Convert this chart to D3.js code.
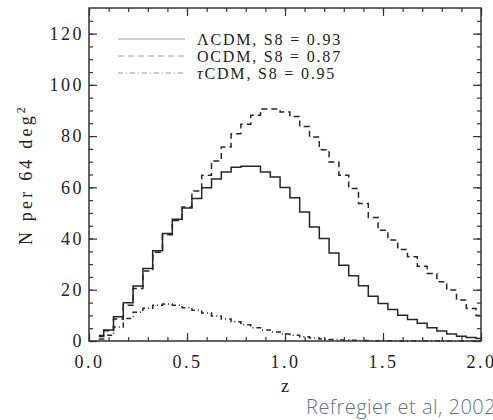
<!DOCTYPE html>
<html>
<head>
<meta charset="utf-8">
<script src="https://cdn.jsdelivr.net/npm/d3@7"></script>
<style>
  body { margin: 0; background: #fff; }
  text { font-family: "Liberation Serif", "DejaVu Serif", serif; fill: #222; }
</style>
</head>
<body>
<svg id="chart" width="493" height="420"></svg>
<script>
// redshift bins (centres) and counts per 64 deg^2
const zBins = [0.05, 0.10, 0.15, 0.20, 0.25, 0.30, 0.35, 0.40, 0.45, 0.50,
               0.55, 0.60, 0.65, 0.70, 0.75, 0.80, 0.85, 0.90, 0.95, 1.00,
               1.05, 1.10, 1.15, 1.20, 1.25, 1.30, 1.35, 1.40, 1.45, 1.50,
               1.55, 1.60, 1.65, 1.70, 1.75, 1.80, 1.85, 1.90, 1.95, 2.00]

const lcdm = [2.1, 4.3, 9.5, 14.9, 21.5, 28.3, 35.2, 42.0, 47.5, 51.9,
              55.6, 59.8, 63.2, 66.0, 67.8, 68.2, 68.2, 66.0, 64.0, 59.9,
              55.9, 50.4, 44.5, 40.0, 34.4, 29.6, 25.5, 21.6, 17.5, 14.6,
              12.3, 10.1, 8.4, 6.9, 5.2, 3.9, 2.7, 1.9, 1.4, 1.0]

const ocdm = [1.8, 4.0, 8.6, 14.0, 20.5, 27.3, 34.6, 41.5, 47.0, 52.3,
              58.6, 64.7, 70.3, 75.7, 80.9, 84.6, 88.1, 90.6, 90.6, 89.4,
              87.6, 83.7, 79.6, 74.7, 69.9, 64.7, 59.5, 53.7, 48.2, 43.2,
              39.4, 35.7, 32.9, 29.2, 26.4, 23.1, 19.9, 16.0, 12.7, 10.0]

const tcdm = [0.8, 2.2, 5.5, 8.8, 11.2, 12.8, 14.0, 14.4, 14.0, 13.0,
              12.0, 10.9, 9.8, 8.6, 7.5, 6.3, 5.2, 4.3, 3.5, 2.7,
              2.2, 1.7, 1.2, 0.8, 0.6, 0.4, 0.25, 0.15, 0.1, 0.07,
              0.05, 0.03, 0.02, 0.01, 0.01, 0, 0, 0, 0, 0]

const seriesNames = ['ΛCDM, S8 = 0.93', 'OCDM, S8 = 0.87', 'τCDM, S8 = 0.95']
const xTicks = [0.0, 0.5, 1.0, 1.5, 2.0]
const yTicks = [0, 20, 40, 60, 80, 100, 120]

const margin = {left: 89, right: 12, top: 8, bottom: 79}
const W = 493, H = 420
const width = W - margin.left - margin.right
const height = H - margin.top - margin.bottom

const svg = d3.select('#chart')
const chart = svg.append('g')
  .attr('transform', `translate(${margin.left}, ${margin.top})`)

const xScale = d3.scaleLinear().domain([0, 2]).range([0, width])
const yScale = d3.scaleLinear().domain([0, 130]).range([height, 0])

const dashes = ['none', '6,4', '5,3,1,3']
const allSeries = [lcdm, ocdm, tcdm]

const line = d3.line()
  .x((d, i) => xScale(zBins[i]))
  .y(d => yScale(d))
  .curve(d3.curveStep)

chart.selectAll('.curve')
  .data(allSeries)
  .join('path')
    .attr('class', 'curve')
    .attr('fill', 'none')
    .attr('stroke', '#262626')
    .attr('stroke-width', 1.5)
    .attr('stroke-dasharray', (d, i) => dashes[i])
    .attr('d', line)

// axes, ticks pointing inwards on all four sides
const minorX = d3.range(0, 2.001, 0.1)
const minorY = d3.range(0, 130, 5)

function styleAxis(g) {
  g.select('.domain').remove()
  g.selectAll('line').attr('stroke', '#333').attr('stroke-width', 1.2)
}

chart.append('g')
  .attr('transform', `translate(0, ${height})`)
  .call(d3.axisBottom(xScale).tickValues(minorX).tickSize(-4).tickFormat(''))
  .call(styleAxis)
chart.append('g')
  .attr('transform', `translate(0, ${height})`)
  .call(d3.axisBottom(xScale).tickValues(xTicks).tickSize(-8).tickPadding(14)
    .tickFormat(d3.format('.1f')))
  .call(styleAxis)
chart.append('g')
  .call(d3.axisTop(xScale).tickValues(minorX).tickSize(-4).tickFormat(''))
  .call(styleAxis)
chart.append('g')
  .call(d3.axisTop(xScale).tickValues(xTicks).tickSize(-8).tickFormat(''))
  .call(styleAxis)

chart.append('g')
  .call(d3.axisLeft(yScale).tickValues(minorY).tickSize(-4).tickFormat(''))
  .call(styleAxis)
chart.append('g')
  .call(d3.axisLeft(yScale).tickValues(yTicks).tickSize(-8).tickPadding(5))
  .call(styleAxis)
chart.append('g')
  .attr('transform', `translate(${width}, 0)`)
  .call(d3.axisRight(yScale).tickValues(minorY).tickSize(-4).tickFormat(''))
  .call(styleAxis)
chart.append('g')
  .attr('transform', `translate(${width}, 0)`)
  .call(d3.axisRight(yScale).tickValues(yTicks).tickSize(-8).tickFormat(''))
  .call(styleAxis)

chart.selectAll('.tick text')
  .style('font-family', '"Liberation Serif", serif')
  .style('font-size', '18px')
  .style('letter-spacing', '2.5px')
  .attr('fill', '#222')

chart.append('rect')
  .attr('width', width)
  .attr('height', height)
  .attr('fill', 'none')
  .attr('stroke', '#333')
  .attr('stroke-width', 1.5)

// axis titles
chart.append('text')
  .attr('x', width / 2)
  .attr('y', height + 51)
  .attr('text-anchor', 'middle')
  .style('font-size', '18px')
  .text('z')

const yTitle = svg.append('text')
  .attr('transform', `translate(32, ${margin.top + height / 2}) rotate(-90)`)
  .attr('text-anchor', 'middle')
  .style('font-size', '18px')
  .style('letter-spacing', '3.2px')
yTitle.append('tspan').text('N per 64 deg')
yTitle.append('tspan').attr('dy', -7).style('font-size', '12px').text('2')

// legend
const legend = chart.append('g')
  .attr('transform', 'translate(29, 31)')
seriesNames.forEach((name, i) => {
  legend.append('line')
    .attr('x1', 0).attr('x2', 67)
    .attr('y1', i * 17).attr('y2', i * 17)
    .attr('stroke', '#9a9a9a')
    .attr('stroke-width', 1)
    .attr('stroke-dasharray', dashes[i])
  const t = legend.append('text')
    .attr('x', 79).attr('y', i * 17 + 5.5)
    .style('font-size', '16px')
    .style('letter-spacing', '1.8px')
  t.append('tspan').text(name[0])
    .style('font-style', name[0] === 'τ' ? 'italic' : null)
  t.append('tspan').text(name.slice(1))
})

// source note
svg.append('text')
  .attr('x', 306)
  .attr('y', 414)
  .style('font-family', '"Open Sans", sans-serif')
  .style('font-weight', 300)
  .style('font-size', '20px')
  .style('letter-spacing', '0.5px')
  .style('fill', '#627282')
  .text('Refregier et al, 2002')
</script>
</body>
</html>
